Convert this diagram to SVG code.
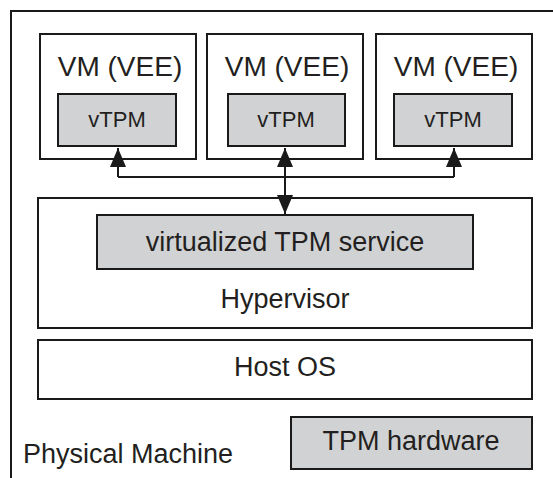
<svg xmlns="http://www.w3.org/2000/svg" width="553" height="478" viewBox="0 0 553 478">
  <style>
    .box { fill: #ffffff; stroke: #1a1a1a; stroke-width: 2; }
    .grey { fill: #d1d2d4; stroke: #1a1a1a; stroke-width: 2; }
    .lbl { font-family: "Liberation Sans", Arial, sans-serif; font-size: 27px; fill: #231f20; text-anchor: middle; }
    .vm { font-size: 28px; }
    .small { font-size: 22px; }
    .wire { fill: none; stroke: #1a1a1a; stroke-width: 2; }
  </style>
  <defs>
    <marker id="head" viewBox="0 0 19 16" refX="19" refY="8" markerWidth="19" markerHeight="16" markerUnits="userSpaceOnUse" orient="auto-start-reverse">
      <path d="M0,0 L19,8 L0,16 Z" fill="#1a1a1a"/>
    </marker>
  </defs>
  <rect width="553" height="478" fill="#ffffff"/>

  <!-- physical machine frame (open to the right and bottom) -->
  <g id="physical-machine">
    <path class="wire" d="M11,478 V11 H553"/>
    <text class="lbl" x="23" y="463" style="text-anchor:start">Physical Machine</text>
  </g>

  <g id="vm1">
    <rect class="box" x="40" y="34" width="156" height="125"/>
    <text class="lbl vm" x="120" y="76">VM (VEE)</text>
  </g>
  <g id="vtpm1">
    <rect class="grey" x="58" y="94" width="118" height="52"/>
    <text class="lbl small" x="117" y="127">vTPM</text>
  </g>

  <g id="vm2">
    <rect class="box" x="207" y="34" width="156" height="125"/>
    <text class="lbl vm" x="287" y="76">VM (VEE)</text>
  </g>
  <g id="vtpm2">
    <rect class="grey" x="228" y="94" width="117" height="52"/>
    <text class="lbl small" x="286" y="127">vTPM</text>
  </g>

  <g id="vm3">
    <rect class="box" x="376" y="34" width="156" height="125"/>
    <text class="lbl vm" x="456" y="76">VM (VEE)</text>
  </g>
  <g id="vtpm3">
    <rect class="grey" x="394" y="94" width="118" height="52"/>
    <text class="lbl small" x="453" y="127">vTPM</text>
  </g>

  <g id="hypervisor">
    <rect class="box" x="38" y="198" width="494" height="130"/>
    <text class="lbl" x="285" y="308">Hypervisor</text>
  </g>
  <g id="vtpm-service">
    <rect class="grey" x="97" y="215" width="376" height="54"/>
    <text class="lbl" x="285" y="251">virtualized TPM service</text>
  </g>

  <g id="host-os">
    <rect class="box" x="38" y="340" width="494" height="59"/>
    <text class="lbl" x="285" y="376">Host OS</text>
  </g>

  <g id="tpm-hardware">
    <rect class="grey" x="291" y="417" width="241" height="52"/>
    <text class="lbl" x="411" y="450">TPM hardware</text>
  </g>

  <g id="connectors">
    <path class="wire" d="M118,177 V148" marker-end="url(#head)"/>
    <path class="wire" d="M454,177 V148" marker-end="url(#head)"/>
    <path class="wire" d="M118,177 H454"/>
    <path class="wire" d="M285,148 V214" marker-start="url(#head)" marker-end="url(#head)"/>
  </g>
</svg>
